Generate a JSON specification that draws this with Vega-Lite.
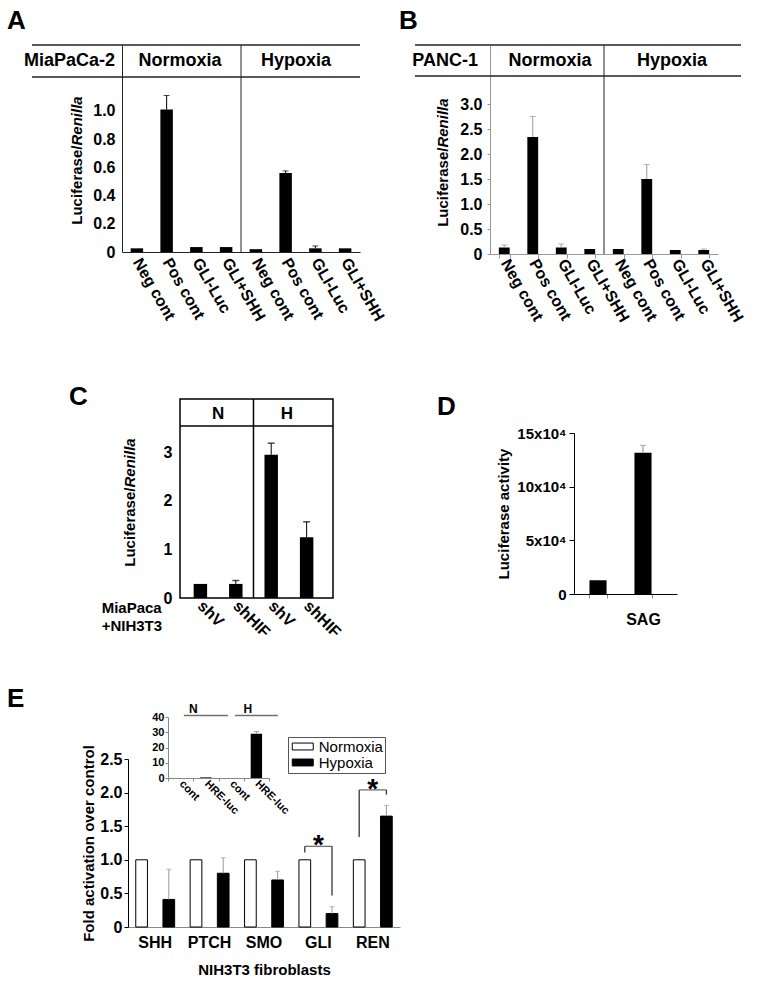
{
  "$schema": "https://vega.github.io/schema/vega-lite/v6.json",
  "padding": {"left": 7, "top": 7, "right": 0, "bottom": 0},
  "config": {
    "view": {"stroke": null},
    "font": "Liberation Sans",
    "axis": {"grid": false, "labelFont": "Liberation Sans", "titleFont": "Liberation Sans", "labelFontWeight": "bold", "titleFontWeight": "bold", "labelColor": "black", "titleColor": "black", "domainColor": "black", "tickColor": "black", "labelOverlap": false},
    "title": {"font": "Liberation Sans", "fontWeight": "bold", "fontSize": 26, "anchor": "start", "frame": "group", "color": "black"},
    "text": {"font": "Liberation Sans", "fontWeight": "bold", "color": "black"}
  },
  "concat": [
    {
      "hconcat": [
        {
          "width": 328, "height": 207,
          "title": {"text": "A", "dx": -25, "offset": 10.5},
          "data": {"values": [
            {"key": "N|Neg cont", "value": 0.026},
            {"key": "N|Pos cont", "value": 1.01, "err": 1.11},
            {"key": "N|GLI-Luc", "value": 0.035},
            {"key": "N|GLI+SHH", "value": 0.035},
            {"key": "H|Neg cont", "value": 0.02},
            {"key": "H|Pos cont", "value": 0.56, "err": 0.575},
            {"key": "H|GLI-Luc", "value": 0.026, "err": 0.043},
            {"key": "H|GLI+SHH", "value": 0.026}
          ]},
          "layer": [
            {
              "encoding": {
                "x": {"field": "key", "type": "nominal", "scale": {"domain": ["N|Neg cont", "N|Pos cont", "N|GLI-Luc", "N|GLI+SHH", "H|Neg cont", "H|Pos cont", "H|GLI-Luc", "H|GLI+SHH"], "range": [90, 328], "paddingInner": 0.58, "paddingOuter": 0.29}, "axis": {"labelExpr": "split(datum.label, '|')[1]", "labelAngle": 60, "labelAlign": "left", "labelBaseline": "middle", "labelFontSize": 16, "labelPadding": 7, "ticks": false, "title": null, "domainColor": "#222"}},
                "y": {"field": "value", "type": "quantitative", "scale": {"domain": [0, 1.468], "nice": false}, "axis": {"orient": "left", "offset": -90, "values": [0, 0.2, 0.4, 0.6, 0.8, 1.0], "tickCount": 12, "labelExpr": "datum.value == 0 ? '0' : format(datum.value, '.1f')", "ticks": false, "labelFontSize": 16, "labelPadding": 7, "title": null, "domainColor": "#222"}}
              },
              "layer": [
                {"mark": {"type": "bar", "color": "black"}},
                {"transform": [{"filter": "isValid(datum.err)"}], "mark": {"type": "rule", "color": "black"}, "encoding": {"y2": {"field": "err"}}},
                {"transform": [{"filter": "isValid(datum.err)"}], "mark": {"type": "tick", "orient": "horizontal", "color": "black", "size": 6, "thickness": 1}, "encoding": {"y": {"field": "err", "type": "quantitative"}}}
              ]
            },
            {"data": {"values": [{}]}, "mark": {"type": "rule", "color": "#222", "strokeWidth": 1.5}, "encoding": {"y": {"datum": 1.468}}},
            {"data": {"values": [{}]}, "mark": {"type": "rule", "color": "#222", "strokeWidth": 1.5}, "encoding": {"y": {"datum": 1.241}}},
            {"data": {"values": [{}]}, "mark": {"type": "rule", "color": "#222", "strokeWidth": 1, "xOffset": -8.6}, "encoding": {"x": {"datum": "H|Neg cont", "bandPosition": 0}}},
            {"data": {"values": [{}]}, "mark": {"type": "text", "text": "MiaPaCa-2", "fontSize": 18, "align": "right", "baseline": "middle", "xOffset": -15.6}, "encoding": {"x": {"datum": "N|Neg cont", "bandPosition": 0}, "y": {"datum": 1.355}}},
            {"data": {"values": [{}]}, "mark": {"type": "text", "text": "Normoxia", "fontSize": 18, "align": "center", "baseline": "middle", "xOffset": -10}, "encoding": {"x": {"datum": "N|GLI-Luc", "bandPosition": 0}, "y": {"datum": 1.355}}},
            {"data": {"values": [{}]}, "mark": {"type": "text", "text": "Hypoxia", "fontSize": 18, "align": "center", "baseline": "middle", "xOffset": -13}, "encoding": {"x": {"datum": "H|GLI-Luc", "bandPosition": 0}, "y": {"datum": 1.355}}},
            {"data": {"values": [{}]}, "mark": {"type": "text", "text": "Luciferase/\u00a0", "fontSize": 15, "angle": -90, "align": "right", "baseline": "middle", "xOffset": -53.6}, "encoding": {"x": {"datum": "N|Neg cont", "bandPosition": 0}, "y": {"datum": 0.755}}},
            {"data": {"values": [{}]}, "mark": {"type": "text", "text": "Renilla", "fontSize": 15, "fontStyle": "italic", "angle": -90, "align": "left", "baseline": "middle", "xOffset": -53.6}, "encoding": {"x": {"datum": "N|Neg cont", "bandPosition": 0}, "y": {"datum": 0.755}}}
          ]
        },
        {"width": 55, "height": 1, "data": {"values": []}, "mark": "point", "encoding": {}},
        {
          "width": 326, "height": 209,
          "title": {"text": "B", "dx": -16, "offset": 10.5},
          "data": {"values": [
            {"key": "N|Neg cont", "value": 0.13, "err": 0.18},
            {"key": "N|Pos cont", "value": 2.34, "err": 2.75},
            {"key": "N|GLI-Luc", "value": 0.13, "err": 0.2},
            {"key": "N|GLI+SHH", "value": 0.1},
            {"key": "H|Neg cont", "value": 0.1},
            {"key": "H|Pos cont", "value": 1.5, "err": 1.79},
            {"key": "H|GLI-Luc", "value": 0.08},
            {"key": "H|GLI+SHH", "value": 0.08, "err": 0.1}
          ]},
          "layer": [
            {
              "encoding": {
                "x": {"field": "key", "type": "nominal", "scale": {"domain": ["N|Neg cont", "N|Pos cont", "N|GLI-Luc", "N|GLI+SHH", "H|Neg cont", "H|Pos cont", "H|GLI-Luc", "H|GLI+SHH"], "range": [75, 303], "paddingInner": 0.62, "paddingOuter": 0.31}, "axis": {"labelExpr": "split(datum.label, '|')[1]", "labelAngle": 60, "labelAlign": "left", "labelBaseline": "middle", "labelFontSize": 16, "labelPadding": 2, "tickBand": "extent", "tickSize": 4, "tickColor": "#999", "title": null, "domainColor": "#999"}},
                "y": {"field": "value", "type": "quantitative", "scale": {"domain": [0, 4.18], "nice": false}, "axis": {"orient": "left", "offset": -75, "values": [0, 0.5, 1, 1.5, 2, 2.5, 3], "tickCount": 14, "labelExpr": "datum.value == 0 ? '0' : format(datum.value, '.1f')", "tickSize": 3, "tickColor": "#999", "labelFontSize": 16, "labelPadding": 5, "title": null, "domainColor": "#999"}}
              },
              "layer": [
                {"mark": {"type": "bar", "color": "black"}},
                {"transform": [{"filter": "isValid(datum.err)"}], "mark": {"type": "rule", "color": "#999"}, "encoding": {"y2": {"field": "err"}}},
                {"transform": [{"filter": "isValid(datum.err)"}], "mark": {"type": "tick", "orient": "horizontal", "color": "#999", "size": 6, "thickness": 1}, "encoding": {"y": {"field": "err", "type": "quantitative"}}}
              ]
            },
            {"data": {"values": [{}]}, "mark": {"type": "rule", "color": "#222", "strokeWidth": 1.5}, "encoding": {"y": {"datum": 4.18}}},
            {"data": {"values": [{}]}, "mark": {"type": "rule", "color": "#222", "strokeWidth": 1.5}, "encoding": {"y": {"datum": 3.56}}},
            {"data": {"values": [{}]}, "mark": {"type": "rule", "color": "#222", "strokeWidth": 1, "xOffset": -8.84}, "encoding": {"x": {"datum": "H|Neg cont", "bandPosition": 0}}},
            {"data": {"values": [{}]}, "mark": {"type": "text", "text": "PANC-1", "fontSize": 18, "align": "right", "baseline": "middle", "xOffset": -20.8}, "encoding": {"x": {"datum": "N|Neg cont", "bandPosition": 0}, "y": {"datum": 3.87}}},
            {"data": {"values": [{}]}, "mark": {"type": "text", "text": "Normoxia", "fontSize": 18, "align": "center", "baseline": "middle", "xOffset": -5.8}, "encoding": {"x": {"datum": "N|GLI-Luc", "bandPosition": 0}, "y": {"datum": 3.87}}},
            {"data": {"values": [{}]}, "mark": {"type": "text", "text": "Hypoxia", "fontSize": 18, "align": "center", "baseline": "middle", "xOffset": 2.2}, "encoding": {"x": {"datum": "H|GLI-Luc", "bandPosition": 0}, "y": {"datum": 3.87}}},
            {"data": {"values": [{}]}, "mark": {"type": "text", "text": "Luciferase/\u00a0", "fontSize": 15, "angle": -90, "align": "right", "baseline": "middle", "xOffset": -55.8}, "encoding": {"x": {"datum": "N|Neg cont", "bandPosition": 0}, "y": {"datum": 2.128}}},
            {"data": {"values": [{}]}, "mark": {"type": "text", "text": "Renilla", "fontSize": 15, "fontStyle": "italic", "angle": -90, "align": "left", "baseline": "middle", "xOffset": -55.8}, "encoding": {"x": {"datum": "N|Neg cont", "bandPosition": 0}, "y": {"datum": 2.128}}}
          ]
        }
      ],
      "spacing": 0,
      "bounds": "flush"
    },
    {"width": 1, "height": 58, "data": {"values": []}, "mark": "point", "encoding": {}},
    {
      "hconcat": [
        {"width": 148, "height": 1, "data": {"values": []}, "mark": "point", "encoding": {}},
        {
          "width": 153, "height": 199,
          "view": {"stroke": "black", "strokeWidth": 1.5},
          "title": {"text": "C", "dx": -111, "offset": 0, "dy": 11.5},
          "data": {"values": [
            {"key": "N|shV", "value": 0.29},
            {"key": "N|shHIF", "value": 0.29, "err": 0.36},
            {"key": "H|shV", "value": 2.95, "err": 3.19},
            {"key": "H|shHIF", "value": 1.25, "err": 1.57}
          ]},
          "layer": [
            {
              "encoding": {
                "x": {"field": "key", "type": "nominal", "scale": {"domain": ["N|shV", "N|shHIF", "H|shV", "H|shHIF"], "paddingInner": 0.62, "paddingOuter": 0.47, "align": 0.41}, "axis": {"labelExpr": "split(datum.label, '|')[1]", "labelAngle": 45, "labelAlign": "left", "labelBaseline": "middle", "labelFontSize": 16, "labelPadding": 5, "ticks": false, "domain": false, "title": null}},
                "y": {"field": "value", "type": "quantitative", "scale": {"domain": [0, 4.10], "nice": false}, "axis": {"values": [0, 1, 2, 3], "tickCount": 10, "format": "d", "domain": false, "ticks": false, "labelFontSize": 16, "labelPadding": 8, "title": null}}
              },
              "layer": [
                {"mark": {"type": "bar", "color": "black"}},
                {"transform": [{"filter": "isValid(datum.err)"}], "mark": {"type": "rule", "color": "black"}, "encoding": {"y2": {"field": "err"}}},
                {"transform": [{"filter": "isValid(datum.err)"}], "mark": {"type": "tick", "orient": "horizontal", "color": "black", "size": 7, "thickness": 1.5}, "encoding": {"y": {"field": "err", "type": "quantitative"}}}
              ]
            },
            {"data": {"values": [{}]}, "mark": {"type": "rule", "color": "black", "strokeWidth": 1.5}, "encoding": {"y": {"datum": 3.546}}},
            {"data": {"values": [{}]}, "mark": {"type": "rule", "color": "black", "strokeWidth": 1.5, "xOffset": -11}, "encoding": {"x": {"datum": "H|shV", "bandPosition": 0}}},
            {"data": {"values": [{}]}, "mark": {"type": "text", "text": "N", "fontSize": 17, "align": "center", "baseline": "middle", "xOffset": -11}, "encoding": {"x": {"datum": "N|shHIF", "bandPosition": 0}, "y": {"datum": 3.8}}},
            {"data": {"values": [{}]}, "mark": {"type": "text", "text": "H", "fontSize": 17, "align": "center", "baseline": "middle", "xOffset": -13}, "encoding": {"x": {"datum": "H|shHIF", "bandPosition": 0}, "y": {"datum": 3.8}}},
            {"data": {"values": [{}]}, "mark": {"type": "text", "text": ["MiaPaca", "+NIH3T3"], "fontSize": 15, "align": "left", "baseline": "top", "lineHeight": 18, "xOffset": -92, "yOffset": 3}, "encoding": {"x": {"datum": "N|shV", "bandPosition": 0}, "y": {"datum": 0}}},
            {"data": {"values": [{}]}, "mark": {"type": "text", "text": "Luciferase/\u00a0", "fontSize": 15, "angle": -90, "align": "right", "baseline": "middle", "xOffset": -63.6}, "encoding": {"x": {"datum": "N|shV", "bandPosition": 0}, "y": {"datum": 2.276}}},
            {"data": {"values": [{}]}, "mark": {"type": "text", "text": "Renilla", "fontSize": 15, "fontStyle": "italic", "angle": -90, "align": "left", "baseline": "middle", "xOffset": -63.6}, "encoding": {"x": {"datum": "N|shV", "bandPosition": 0}, "y": {"datum": 2.276}}}
          ]
        },
        {"width": 241, "height": 1, "data": {"values": []}, "mark": "point", "encoding": {}},
        {
          "width": 103, "height": 195,
          "title": {"text": "D", "dx": -137, "offset": 0, "dy": 20.5},
          "data": {"values": [
            {"treat": "Vehicle", "value": 12800},
            {"treat": "SAG", "value": 131600, "err": 138500}
          ]},
          "encoding": {
            "x": {"field": "treat", "type": "nominal", "scale": {"domain": ["Vehicle", "SAG"], "paddingInner": 0.62, "paddingOuter": 0.455, "align": 0.378}, "axis": {"labelExpr": "datum.label == 'SAG' ? 'SAG' : ''", "labelAngle": 0, "tickBand": "extent", "tickSize": 4, "tickColor": "#888", "labelFontSize": 16, "labelPadding": 13, "title": null}},
            "y": {"field": "value", "type": "quantitative", "scale": {"domain": [0, 150000], "range": [195, 34], "nice": false}, "axis": {"values": [0, 50000, 100000, 150000], "tickCount": 10, "labelExpr": "datum.value == 0 ? '0' : (datum.value / 10000) + 'x10⁴'", "tickSize": 5, "labelFontSize": 15, "labelPadding": 3, "title": "Luciferase activity", "titleFontSize": 15, "titlePadding": 5}}
          },
          "layer": [
            {"mark": {"type": "bar", "color": "black"}},
            {"transform": [{"filter": "isValid(datum.err)"}], "mark": {"type": "rule", "color": "#888"}, "encoding": {"y2": {"field": "err"}}},
            {"transform": [{"filter": "isValid(datum.err)"}], "mark": {"type": "tick", "orient": "horizontal", "color": "#888", "size": 6, "thickness": 1}, "encoding": {"y": {"field": "err", "type": "quantitative"}}}
          ]
        }
      ],
      "spacing": 0,
      "bounds": "flush"
    },
    {"width": 1, "height": 45, "data": {"values": []}, "mark": "point", "encoding": {}},
    {
      "hconcat": [
        {"width": 96, "height": 1, "data": {"values": []}, "mark": "point", "encoding": {}},
        {
          "width": 272, "height": 168,
          "title": {"text": "E", "dx": -121, "offset": 0, "dy": 9.5},
          "layer": [
            {
              "data": {"values": [
                {"key": "SHH|N", "cond": "Normoxia", "value": 1.0},
                {"key": "SHH|H", "cond": "Hypoxia", "value": 0.41, "err": 0.86},
                {"key": "PTCH|N", "cond": "Normoxia", "value": 1.0},
                {"key": "PTCH|H", "cond": "Hypoxia", "value": 0.8, "err": 1.03},
                {"key": "SMO|N", "cond": "Normoxia", "value": 1.0},
                {"key": "SMO|H", "cond": "Hypoxia", "value": 0.7, "err": 0.83},
                {"key": "GLI|N", "cond": "Normoxia", "value": 1.0},
                {"key": "GLI|H", "cond": "Hypoxia", "value": 0.2, "err": 0.3},
                {"key": "REN|N", "cond": "Normoxia", "value": 1.0},
                {"key": "REN|H", "cond": "Hypoxia", "value": 1.65, "err": 1.81}
              ]},
              "encoding": {
                "x": {"field": "key", "type": "nominal", "scale": {"domain": ["SHH|N", "SHH|H", "PTCH|N", "PTCH|H", "SMO|N", "SMO|H", "GLI|N", "GLI|H", "REN|N", "REN|H"], "paddingInner": 0.57, "paddingOuter": 0.285}, "axis": {"orient": "bottom", "labelExpr": "indexof(datum.label, '|N') > 0 ? split(datum.label, '|')[0] : ''", "labelOffset": 13.6, "labelAngle": 0, "labelAlign": "center", "title": "NIH3T3 fibroblasts", "titleFontSize": 15, "titlePadding": 12, "labelFontSize": 16, "labelPadding": 7, "ticks": false, "domainColor": "#888"}},
                "y": {"field": "value", "type": "quantitative", "scale": {"domain": [0, 2.5], "nice": false}, "axis": {"orient": "left", "values": [0, 0.5, 1.0, 1.5, 2.0, 2.5], "tickCount": 12, "labelExpr": "datum.value == 0 ? '0' : format(datum.value, '.1f')", "tickSize": 4, "labelFontSize": 16, "labelPadding": 2, "title": "Fold activation over control", "titleFontSize": 15, "titlePadding": 3}}
              },
              "layer": [
                {"mark": {"type": "bar", "stroke": "black", "strokeWidth": 1},
                 "encoding": {"fill": {"field": "cond", "type": "nominal", "scale": {"domain": ["Normoxia", "Hypoxia"], "range": ["white", "black"]}, "legend": {"title": null, "orient": "none", "legendX": 256, "legendY": 692, "symbolType": "M-2,-0.66H2V0.66H-2Z", "symbolSize": 110, "symbolOffset": 5.25, "symbolStrokeColor": "black", "symbolStrokeWidth": 1, "labelFontSize": 15, "labelFont": "Liberation Sans", "labelFontWeight": "normal", "labelColor": "black", "labelOffset": 8.5, "strokeColor": "#555", "fillColor": "white", "padding": 2, "rowPadding": -2}}}},
                {"transform": [{"filter": "isValid(datum.err)"}], "mark": {"type": "rule", "color": "#999"}, "encoding": {"y2": {"field": "err"}}},
                {"transform": [{"filter": "isValid(datum.err)"}], "mark": {"type": "tick", "orient": "horizontal", "color": "#999", "size": 5, "thickness": 1}, "encoding": {"y": {"field": "err", "type": "quantitative"}}},
                {"data": {"values": [
                  {"key": "GLI|N", "y1": 1.11, "y2": 1.2},
                  {"key": "GLI|H", "y1": 0.47, "y2": 1.2},
                  {"key": "REN|N", "y1": 1.34, "y2": 2.04},
                  {"key": "REN|H", "y1": 1.97, "y2": 2.04}
                 ]},
                 "mark": {"type": "rule", "color": "#333", "strokeWidth": 1.3},
                 "encoding": {"y": {"field": "y1", "type": "quantitative"}, "y2": {"field": "y2"}}},
                {"data": {"values": [
                  {"key": "GLI|N", "y": 1.2},
                  {"key": "REN|N", "y": 2.04}
                 ]},
                 "mark": {"type": "tick", "orient": "horizontal", "color": "#333", "size": 27.2, "thickness": 1.3, "xOffset": 13.6},
                 "encoding": {"y": {"field": "y", "type": "quantitative"}}},
                {"data": {"values": [
                  {"key": "GLI|N", "y": 1.2, "sig": "*"},
                  {"key": "REN|N", "y": 2.04, "sig": "*"}
                 ]},
                 "mark": {"type": "text", "fontSize": 28, "align": "center", "baseline": "middle", "xOffset": 13.6},
                 "encoding": {"y": {"field": "y", "type": "quantitative"}, "text": {"field": "sig"}}}
              ]
            },
            {
              "data": {"values": [
                {"k": "cont (N)", "v": 0},
                {"k": "HRE-luc (N)", "v": 0.4},
                {"k": "cont (H)", "v": 0},
                {"k": "HRE-luc (H)", "v": 29, "e": 30.5}
              ]},
              "layer": [
                {
                  "encoding": {
                    "x": {"field": "k", "type": "nominal", "scale": {"domain": ["cont (N)", "HRE-luc (N)", "cont (H)", "HRE-luc (H)"], "range": [40, 141], "paddingInner": 0, "paddingOuter": 0}, "axis": {"orient": "bottom", "offset": -149, "labelAngle": 45, "labelAlign": "left", "labelBaseline": "middle", "labelExpr": "split(datum.label, ' ')[0]", "tickBand": "extent", "tickSize": 3, "tickColor": "#888", "domainColor": "#888", "labelFontSize": 11, "labelPadding": 1, "title": null}},
                    "y": {"field": "v", "type": "quantitative", "scale": {"domain": [0, 40], "range": [19, -42], "nice": false}, "axis": {"orient": "left", "offset": -40, "values": [0, 10, 20, 30, 40], "tickCount": 10, "format": "d", "tickSize": 3, "tickColor": "#888", "domainColor": "#888", "labelFontSize": 11, "labelPadding": 1, "title": null}}
                  },
                  "layer": [
                    {"mark": {"type": "bar", "color": "black", "width": {"band": 0.45}}},
                    {"transform": [{"filter": "isValid(datum.e)"}], "mark": {"type": "rule", "color": "#888"}, "encoding": {"y2": {"field": "e"}}},
                    {"transform": [{"filter": "isValid(datum.e)"}], "mark": {"type": "tick", "orient": "horizontal", "color": "#888", "size": 5, "thickness": 1}, "encoding": {"y": {"field": "e", "type": "quantitative"}}}
                  ]
                },
                {"data": {"values": [{}]}, "mark": {"type": "tick", "orient": "horizontal", "color": "#333", "size": 44, "thickness": 1.3}, "encoding": {"x": {"datum": "HRE-luc (N)", "bandPosition": 0.08}, "y": {"datum": 41}}},
                {"data": {"values": [{}]}, "mark": {"type": "tick", "orient": "horizontal", "color": "#333", "size": 43, "thickness": 1.3}, "encoding": {"x": {"datum": "HRE-luc (H)", "bandPosition": 0.14}, "y": {"datum": 41}}},
                {"data": {"values": [{}]}, "mark": {"type": "text", "text": "N", "fontSize": 12, "align": "center", "baseline": "middle"}, "encoding": {"x": {"datum": "HRE-luc (N)", "bandPosition": 0}, "y": {"datum": 45.5}}},
                {"data": {"values": [{}]}, "mark": {"type": "text", "text": "H", "fontSize": 12, "align": "center", "baseline": "middle"}, "encoding": {"x": {"datum": "HRE-luc (H)", "bandPosition": 0.16}, "y": {"datum": 45.5}}}
              ]
            }
          ],
          "resolve": {"scale": {"x": "independent", "y": "independent"}, "axis": {"x": "independent", "y": "independent"}}
        }
      ],
      "spacing": 0,
      "bounds": "flush"
    }
  ],
  "columns": 1,
  "spacing": 0,
  "align": "each",
  "bounds": "full"
}
